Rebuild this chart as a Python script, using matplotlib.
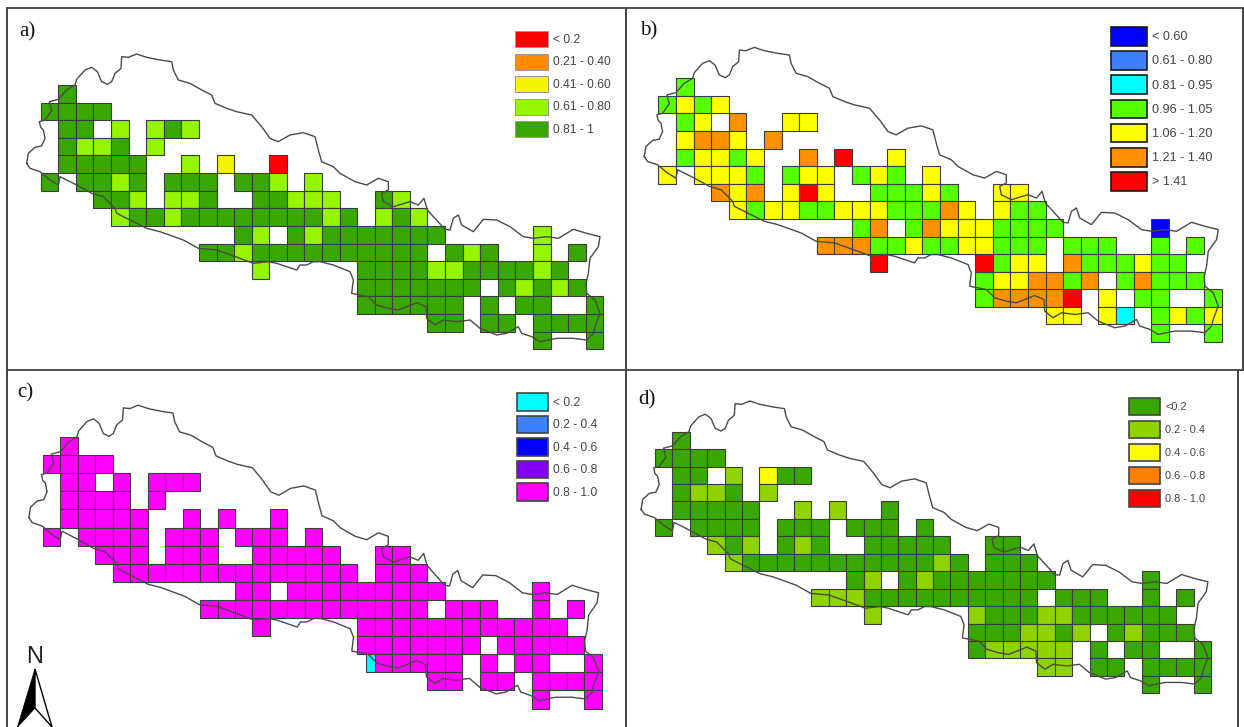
import numpy as np
import matplotlib
matplotlib.use("Agg")
import matplotlib.pyplot as plt
from matplotlib.patches import Patch, Polygon

W, H = 1244, 727
plt.rcParams['font.family'] = ['Liberation Sans', 'DejaVu Sans']

# Class of each 32-column, 15-row grid cell ('.' = no data)
grid_a = [".G", "GGGG", ".GG.L.LGL", ".GLLG.L", ".GGGGG..L.Y..R", "G.GGLG.GGG.GGL.L",
          "...GGL.LLG..GGLLL..GL", "....LGGLGGGGGGGGLG.LGL",
          "...........GL.GLGGGGGGG.....L", ".........GGLGGGGGGGGGG.GLG..L.G",
          "............L.....GGGGLLGGGGLG", "..................GGGGGGG.GLGLG",
          "..................GGGGGG.G.GG..G", "......................GG.GG.GGGG",
          "............................G..G"]
grid_b = [".G", "GYGY", ".GY.O..YY", ".YOOY.O", ".GYYGY..O.R..Y", "Y.YYYG.GYY.GYG.Y",
          "...OYO.YRY..GGGYG..YY", "....YGYYGGYYYGGGOY.YGG",
          "...........GO.GOYYYGGGG.....B", ".........OOOGGYGGYYGGG.GGG..G.G",
          "............R.....RGYY.OGGGYGG", "..................GYYOOGO.GOGGG",
          "..................GOOOOR.Y.GG..G", "......................YY.YC.GYGY",
          "............................G..G"]
grid_c = [".M", "MMMM", ".MM.M.MMM", ".MMMM.M", ".MMMMM..M.M..M", "M.MMMM.MMM.MMM.M",
          "...MMM.MMM..MMMMM..MM", "....MMMMMMMMMMMMMM.MMM",
          "...........MM.MMMMMMMMM.....M", ".........MMMMMMMMMMMMM.MMM..M.M",
          "............M.....MMMMMMMMMMMM", "..................MMMMMMM.MMMMM",
          "...................MMMMM.M.MM..M", "......................MM.MM.MMMM",
          "............................M..M"]
grid_d = [".G", "GGGG", ".GG.L.YGG", ".GLLG.L", ".GGGGG..L.L..G", "G.GGGG.GGG.GGG.G",
          "...LGL.GLG..GGGGG..GG", "....LGGGGGGGGGGGLG.GGG",
          "...........GL.GLGGGGGGG.....G", ".........LLLGGGGGGGGGG.GGG..G.G",
          "............L.....LGGGLLGGGGGG", "..................GGGLLGL.GLGGG",
          "..................GLLLLL.G.GG..G", "......................LL.GG.GGGG",
          "............................G..G"]

# Legend classes per panel
codes_a = "RBYLG"
labels_a = ["< 0.2", "0.21 - 0.40", "0.41 - 0.60", "0.61 - 0.80", "0.81 - 1"]
colors_a = ["#FF0000", "#FF8C00", "#F5F500", "#96F500", "#38A800"]
codes_b = "BMCGYOR"
labels_b = ["< 0.60", "0.61 - 0.80", "0.81 - 0.95", "0.96 - 1.05", "1.06 - 1.20", "1.21 - 1.40", "> 1.41"]
colors_b = ["#0000FF", "#3D80FF", "#00FFFF", "#55FF00", "#FFFF00", "#FF9100", "#FF0000"]
codes_c = "CSBPM"
labels_c = ["< 0.2", "0.2 - 0.4", "0.4 - 0.6", "0.6 - 0.8", "0.8 - 1.0"]
colors_c = ["#00FFFF", "#3D80FF", "#0000FF", "#8400F0", "#FF00FF"]
codes_d = "GLYOR"
labels_d = ["<0.2", "0.2 - 0.4", "0.4 - 0.6", "0.6 - 0.8", "0.8 - 1.0"]
colors_d = ["#38A800", "#8FD400", "#FFFF00", "#FF8000", "#FF0000"]

# Country outline: reference pixels of panel a
outline_w_x = [20, 25, 45, 65, 75, 70, 62, 58, 75, 95, 88, 115, 140, 165, 170, 195, 215, 232, 245, 262, 275, 285, 303,
               305, 325, 350, 380, 420, 455, 460, 475, 510, 545, 575, 585, 620, 650, 695, 725, 750, 775, 810, 850, 885]
outline_w_y = [370, 340, 322, 318, 295, 270, 262, 245, 240, 212, 185, 178, 150, 135, 118, 90, 82, 95, 125, 133, 125, 100, 85,
               50, 52, 42, 52, 60, 65, 90, 120, 130, 150, 165, 190, 205, 215, 225, 260, 295, 305, 285, 278, 290]
outline_e_x = [55, 65, 100, 120, 165, 200, 235, 265, 265, 245, 250, 280, 330, 355, 372, 382, 405, 435, 450, 460, 475, 485,
               520, 550, 590, 630, 670, 700, 740, 775, 820, 860, 900, 895, 870, 865, 858, 860, 885, 900, 885, 880, 860,
               820, 770, 720, 695, 665, 655, 620, 590, 540, 510, 470, 430, 405, 380, 378, 350, 295, 265, 230, 205, 155,
               160, 150, 100, 60, 40, 20, 0]
outline_e_y = [60, 95, 110, 130, 155, 165, 145, 155, 180, 190, 215, 230, 215, 225, 205, 240, 265, 298, 300, 265, 255, 285,
               305, 268, 270, 290, 320, 325, 320, 325, 298, 310, 320, 350, 385, 430, 460, 490, 510, 550, 590, 610, 630,
               625, 625, 635, 620, 610, 590, 610, 615, 595, 570, 575, 570, 585, 565, 530, 518, 540, 535, 525, 500, 490,
               450, 425, 405, 395, 395, 405, 405]
outline_s_x = [830, 770, 745, 700, 660, 590, 535, 490, 420, 380, 330, 290, 285, 250, 215, 170, 120, 115, 90, 60, 30, 20]
outline_s_y = [690, 670, 665, 670, 655, 630, 625, 600, 575, 565, 540, 520, 505, 470, 460, 435, 410, 435, 420, 395, 385, 370]

px_x = np.r_[20 + np.array(outline_w_x) / 3, 300 + np.array(outline_e_x) / 3, 20 + np.array(outline_s_x) / 3]
px_y = np.r_[40 + np.array(outline_w_y) / 3, 130 + np.array(outline_e_y) / 3, 40 + np.array(outline_s_y) / 3]
outline_x = (px_x - 40.7) / 17.58
outline_y = (px_y - 85.0) / 17.62

fig = plt.figure(figsize=(W / 100, H / 100), dpi=100, facecolor="white")


def px_axes(l, t, r, b):
    return fig.add_axes([l / W, 1 - b / H, (r - l) / W, (b - t) / H])


def draw_panel(frame, origin, cell, grid, codes, colors, labels, tag, tag_xy, leg, partial=None):
    l, t, r, b = frame
    ax = px_axes(l, t, r, b)
    ax.axis("off")
    ax.patch.set_alpha(0)
    cols, rows, cols_color = [], [], []
    for i, row in enumerate(grid):
        for j, ch in enumerate(row):
            if ch != ".":
                cols.append(j)
                rows.append(i)
                cols_color.append(colors[codes.index(ch)])
    ax.bar(cols, 1, bottom=rows, width=1, align="edge", color=cols_color, edgecolor="#3c3c3c", linewidth=0.8)
    if partial:
        ax.bar(partial[0], 1, bottom=partial[1], width=partial[2], align="edge", color=partial[3],
               edgecolor="#3c3c3c", linewidth=0.8)
    ax.plot(outline_x, outline_y, color="#4a4a4a", lw=1.0, solid_joinstyle="round")
    ax.set_xlim((l - origin[0]) / cell[0], (r - origin[0]) / cell[0])
    ax.set_ylim((b - origin[1]) / cell[1], (t - origin[1]) / cell[1])
    handles = [Patch(fc=c, ec=leg["ec"], lw=leg["lw"]) for c in colors]
    fs_px = leg["px"]
    ax.legend(handles, labels, loc="upper left", bbox_to_anchor=(leg["x"] / W, 1 - leg["y"] / H),
              bbox_transform=fig.transFigure, frameon=False, borderpad=0, borderaxespad=0,
              fontsize=fs_px * 0.72, handlelength=leg["w"] / fs_px,
              handleheight=(leg["h"] / fs_px - 0.245) / 0.65,
              labelspacing=(leg["step"] - leg["h"]) / fs_px, handletextpad=5 / fs_px,
              labelcolor="#444444")
    fig.text(tag_xy[0] / W, 1 - tag_xy[1] / H, tag, family=["Liberation Serif"], fontsize=15,
             color="#111111", va="baseline", ha="left")


draw_panel((8, 9, 625, 369), (40.7, 85.0), (17.58, 17.62), grid_a, codes_a, colors_a, labels_a, "a)", (19, 36),
           dict(x=515, y=31, w=33, h=16, step=22.5, px=12, ec="#999999", lw=0.7))
draw_panel((627, 9, 1242, 369), (658.3, 78.3), (17.6, 17.58), grid_b, codes_b, colors_b, labels_b, "b)", (640, 35),
           dict(x=1111, y=27, w=36, h=18.5, step=24.2, px=12.6, ec="#1a1a1a", lw=1.2))
draw_panel((8, 371, 625, 727), (42.8, 437.0), (17.47, 18.1), grid_c, codes_c, colors_c, labels_c, "c)", (17, 397),
           dict(x=517, y=393, w=31, h=17.5, step=22.5, px=12, ec="#444444", lw=1.2), partial=(18.5, 12, 0.5, "#00FFFF"))
draw_panel((627, 371, 1238, 727), (655.0, 431.7), (17.38, 17.44), grid_d, codes_d, colors_d, labels_d, "d)", (638, 404),
           dict(x=1129, y=398, w=31, h=17, step=23, px=11, ec="#444444", lw=1.2))

# Panel frame and north arrow, in reference pixels
over = fig.add_axes([0, 0, 1, 1], zorder=5)
over.set_xlim(0, W)
over.set_ylim(H, 0)
over.axis("off")
over.patch.set_alpha(0)
line_kw = dict(color="#222222", lw=1.1, solid_capstyle="butt")
over.plot([7, 1243], [8, 8], **line_kw)
over.plot([7, 1243], [369.5, 369.5], **line_kw)
over.plot([7, 7], [8, 727], color="#444444", lw=1.4)
over.plot([626, 626], [8, 727], color="#444444", lw=1.4)
over.plot([1242.5, 1242.5], [8, 369.5], color="#444444", lw=1.4)
over.plot([1238, 1238], [369.5, 727], color="#444444", lw=1.4)
over.text(35, 663, "N", ha="center", va="baseline", fontsize=17, color="#222222")
over.add_patch(Polygon([(35, 669), (17.5, 727), (35, 708)], closed=True, fc="black", ec="black", lw=0.6))
over.add_patch(Polygon([(35, 669), (52, 727), (35, 708)], closed=True, fc="white", ec="black", lw=1.0))

fig.savefig("out.png", dpi=100)
